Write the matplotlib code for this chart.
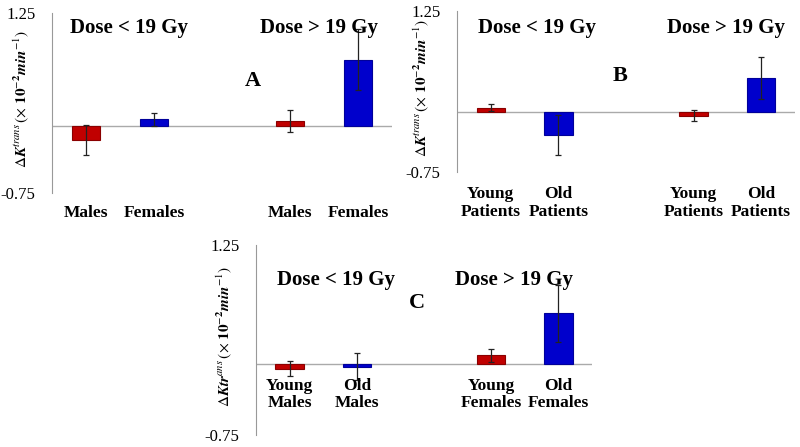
import matplotlib
matplotlib.use("Agg")
import matplotlib.pyplot as plt

plt.rcParams['mathtext.fontset'] = 'stix'
plt.rcParams['font.family'] = 'Liberation Serif'

# panel A: sex
labels_a = ['Males', 'Females', 'Males', 'Females']
vals_a = [-0.16, 0.07, 0.05, 0.73]
err_a = [0.17, 0.07, 0.12, 0.34]

# panel B: age
labels_b = ['Young\nPatients', 'Old\nPatients', 'Young\nPatients', 'Old\nPatients']
vals_b = [0.05, -0.29, -0.05, 0.42]
err_b = [0.04, 0.25, 0.07, 0.26]

# panel C: age and sex
labels_c = ['Young\nMales', 'Old\nMales', 'Young\nFemales', 'Old\nFemales']
vals_c = [-0.05, -0.03, 0.09, 0.53]
err_c = [0.08, 0.14, 0.07, 0.30]

positions = [0, 1, 3, 4]
colors = ['#c00000', '#0000cc', '#c00000', '#0000cc']
edges = ['#8a0000', '#00009a', '#8a0000', '#00009a']

ylab_std = (r'$\Delta\mathbfit{K}^{trans}\,(\times\ \mathbf{10}^{-\mathbf{2}}'
            r'\mathbfit{min}^{-1})$')
ylab_typo = (r'$\Delta\mathbfit{Ktr}^{ans}\,(\times\ \mathbf{10}^{-\mathbf{2}}'
             r'\mathbfit{min}^{-1})$')


def draw_panel(rect, vals, errs, labels, letter, dose_pos, letter_pos, lab_y, ylab, ylab_x):
    ax = fig.add_axes(rect)
    ax.bar(positions, vals, width=0.42, color=colors, edgecolor=edges, linewidth=0.8, zorder=2)
    ax.errorbar(positions, vals, yerr=errs, fmt='none', ecolor='#222222',
                elinewidth=0.9, capsize=2.5, capthick=0.9, zorder=3)
    ax.axhline(0, color='#aaaaaa', lw=1, zorder=1)
    ax.set_xlim(-0.5, 4.5)
    ax.set_ylim(-0.75, 1.25)
    for s in ['top', 'right', 'bottom']:
        ax.spines[s].set_visible(False)
    ax.spines['left'].set_color('#999999')
    ax.set_xticks([])
    ax.set_yticks([-0.75, 1.25])
    ax.set_yticklabels(['-0.75', '1.25'])
    ax.tick_params(axis='y', length=0, pad=12, labelsize=12)
    ax.set_ylabel(ylab, fontsize=11)
    ax.yaxis.set_label_coords(ylab_x, 0.52)
    ax.patch.set_alpha(0)

    ax.text(dose_pos[0], dose_pos[2], 'Dose < 19 Gy', ha='center', va='center',
            fontsize=15, fontweight='bold')
    ax.text(dose_pos[1], dose_pos[2], 'Dose > 19 Gy', ha='center', va='center',
            fontsize=15, fontweight='bold')
    ax.text(letter_pos[0], letter_pos[1], letter, ha='center', va='center',
            fontsize=16, fontweight='bold')
    for p, lab in zip(positions, labels):
        ax.text(p, lab_y, lab, ha='center', va='center', fontsize=12.5,
                fontweight='bold', linespacing=1.1, clip_on=False)
    return ax


fig = plt.figure(figsize=(8, 4.47), dpi=100)

draw_panel([52 / 800, 1 - 193 / 447, 340 / 800, 180 / 447], vals_a, err_a, labels_a, 'A',
           (0.63, 3.43, 1.08), (2.45, 0.5), -0.97, ylab_std, -0.062)
draw_panel([457 / 800, 1 - 172 / 447, 338 / 800, 161 / 447], vals_b, err_b, labels_b, 'B',
           (0.68, 3.48, 1.04), (1.91, 0.44), -1.135, ylab_std, -0.077)
draw_panel([256 / 800, 1 - 435 / 447, 336 / 800, 190 / 447], vals_c, err_c, labels_c, 'C',
           (0.69, 3.34, 0.88), (1.9, 0.64), -0.32, ylab_typo, -0.065)

fig.savefig('out.png', dpi=100)
